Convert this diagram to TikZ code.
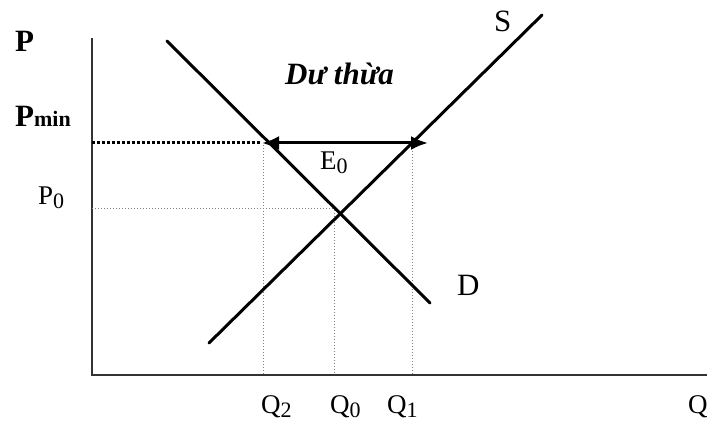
\documentclass[tikz,border=0pt]{standalone}
\usepackage{fontspec}
\setmainfont{Liberation Serif}
\usetikzlibrary{arrows.meta}
\newcommand\lowsub[1]{{\fontsize{22}{22}\selectfont\raisebox{-4pt}{#1}}}
\begin{document}
\begin{tikzpicture}[x=1pt,y=-1pt,
  curve/.style={line width=3pt, line cap=round},
  guide/.style={black!50, dotted, line width=1pt},
  floor/.style={black, dotted, line width=3pt},
  axis/.style={line width=2pt, black!80},
  lbl/.style={inner sep=0pt, anchor=base west, font=\fontsize{27}{27}\selectfont},
  cvlbl/.style={inner sep=0pt, anchor=base west, font=\fontsize{31}{31}\selectfont},
  plbl/.style={inner sep=0pt, anchor=base west, font=\bfseries\fontsize{31}{31}\selectfont},
  arr/.style={line width=3pt, {Latex[length=17pt,width=14pt]}-{Latex[length=17pt,width=14pt]}}]
\useasboundingbox (0,0) rectangle (707,430);
% axes
\coordinate (Ytop) at (92,38);
\coordinate (O) at (92,375);
\coordinate (Xend) at (710,375);
\draw[axis] (Ytop) -- (O) -- (Xend);
% key points
\coordinate (Pmin0) at (92,143);
\coordinate (Pmin1) at (260,143);
\coordinate (ArL) at (262,143);
\coordinate (ArR) at (428,143);
\coordinate (Q2t) at (263,145);
\coordinate (Q2b) at (263,375);
\coordinate (Q1t) at (412,145);
\coordinate (Q1b) at (412,375);
\coordinate (P0a) at (92,209);
\coordinate (P0b) at (334,209);
\coordinate (Q0b) at (334,375);
% guides
\draw[guide] (P0a) -- (P0b) -- (Q0b);
\draw[guide] (Q2t) -- (Q2b);
\draw[guide] (Q1t) -- (Q1b);
\draw[floor] (Pmin0) -- (Pmin1);
% curves
\coordinate (D1) at (167,41);
\coordinate (D2) at (430,303);
\coordinate (S1) at (209,343);
\coordinate (S2) at (542,15);
\draw[curve] (D1) -- (D2);
\draw[curve] (S1) -- (S2);
% surplus arrow
\draw[arr] (ArL) -- (ArR);
% labels
\node[plbl] (lP) at (15,52) {P};
\node[plbl] (lPmin) at (15,127) {P{\fontsize{22}{22}\selectfont min}};
\node[lbl] (lP0) at (38,205) {P\lowsub{0}};
\node[lbl] (lQ2) at (261,413) {Q\lowsub{2}};
\node[lbl] (lQ0) at (330,413) {Q\lowsub{0}};
\node[lbl] (lQ1) at (387,413) {Q\lowsub{1}};
\node[lbl] (lQ) at (688,413) {Q};
\node[lbl] (lE0) at (320,170) {E\lowsub{0}};
\node[cvlbl] (lS) at (494,32) {S};
\node[cvlbl] (lD) at (457,296) {D};
\node[inner sep=0pt, anchor=base west, font=\bfseries\itshape\fontsize{31}{31}\selectfont] (lsur) at (285,85) {Dư thừa};
\end{tikzpicture}
\end{document}
